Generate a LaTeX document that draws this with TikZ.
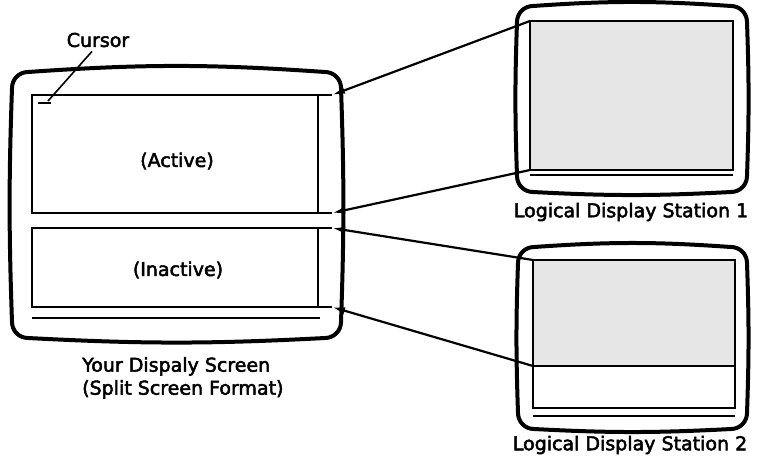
\documentclass[tikz,border=0pt]{standalone}
\usepackage{fontspec}
\setmainfont{DejaVu Sans}[BoldFont=DejaVu Sans,BoldFeatures={FakeBold=2.6}]
\usepackage{tikz}
\usetikzlibrary{arrows.meta,positioning,calc}
\definecolor{stipple}{HTML}{E6E6E6}
\newcommand{\labelfont}{\fontsize{19}{23}\selectfont\bfseries}
% CRT housing with slightly bowed sides
\newcommand{\crt}[4]{%
  \draw[bezel] ({#1+16},#2) to[bend left=4] ({#3-16},#2)
    to[out=0,in=90] (#3,{#2+16}) to[bend left=2] (#3,{#4-16})
    to[out=-90,in=0] ({#3-16},#4) to[bend left=3] ({#1+16},#4)
    to[out=180,in=-90] (#1,{#4-16}) to[bend left=2] (#1,{#2+16})
    to[out=90,in=180] cycle;}

\begin{document}
\begin{tikzpicture}[x=1pt,y=-1pt,
    bezel/.style={line width=4pt,line join=round},
    panel/.style={line width=2.4pt},
    screen/.style={draw,line width=2.4pt,inner sep=0pt,outer sep=0pt},
    caption/.style={font=\labelfont,inner sep=0pt},
    link/.style={line width=2.2pt,-{Latex[length=13pt,width=7pt]}}]
  \useasboundingbox[fill=white] (0,0) rectangle (757,467);

  % your display screen
  \crt{12}{72}{341}{338}
  \coordinate (a1) at (332,95);
  \coordinate (a2) at (332,213);
  \coordinate (i1) at (332,228);
  \coordinate (i2) at (332,307);
  \draw[panel] (a1) -- (32,95) -- (32,213) -- (a2);
  \draw[panel] (318,95) -- (318,213);
  \draw[panel] (i1) -- (32,228) -- (32,307) -- (i2);
  \draw[panel] (318,228) -- (318,307);
  \draw[panel] (32,318) -- (320,318);
  \node[caption] (active) at (177,161) {(Active)};
  \node[caption] (inactive) at (178,270) {(Inactive)};

  \coordinate (curmark) at (48,101);
  \draw[line width=2.8pt] (38,103) -- (51,103);
  \node[caption] (cursor) at (98,40) {Cursor};
  \draw[line width=1.6pt] ([xshift=-6pt,yshift=-4pt]cursor.south) -- (curmark);

  \node[caption,anchor=north west,align=left] (own) at (82,357)
    {Your Dispaly Screen\\(Split Screen Format)};

  % logical display station 1
  \crt{517}{6}{747}{192}
  \node[screen,fill=stipple,minimum width=203pt,minimum height=149pt] (s1) at (631.5,95.5) {};
  \draw[panel] (s1.south west) ++(0,5) -- ++(203,0);
  \node[caption] (lds1) at (631,212) {Logical Display Station 1};

  % logical display station 2
  \crt{518}{247}{747}{429}
  \node[screen,fill=stipple,minimum width=202pt,minimum height=106pt] (s2) at (634,313) {};
  \node[screen,minimum width=202pt,minimum height=42pt,below=0pt of s2] (s2b) {};
  \draw[panel] (s2b.south west) ++(0,8) -- ++(202,0);
  \node[caption] (lds2) at (630,445) {Logical Display Station 2};

  \draw[link] (s1.north west) -- (a1);
  \draw[link] (s1.south west) -- (a2);
  \draw[link] (s2.north west) -- (i1);
  \draw[link] (s2.south west) -- (i2);
\end{tikzpicture}
\end{document}
